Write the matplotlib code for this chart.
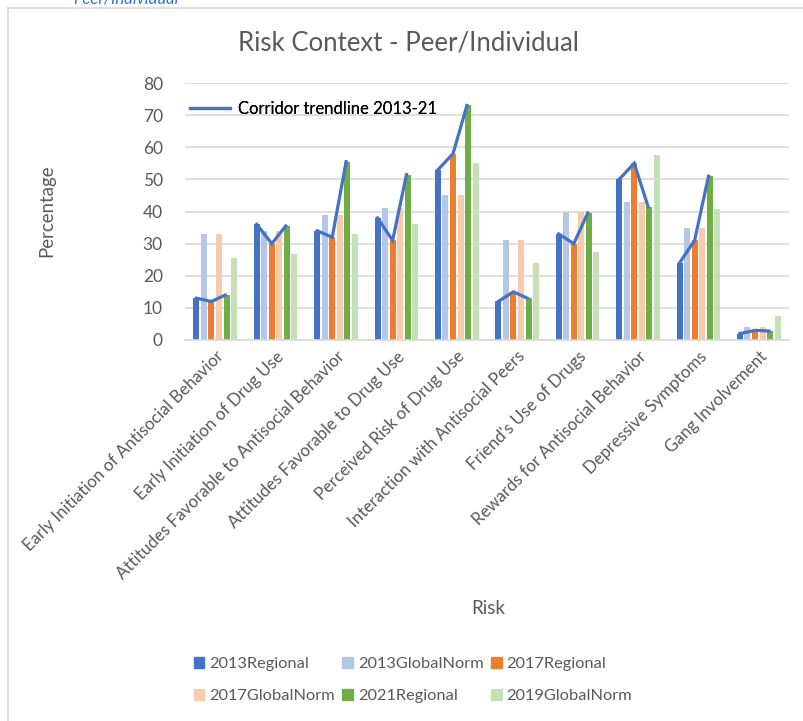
import numpy as np
import matplotlib
matplotlib.use("Agg")
import matplotlib.pyplot as plt
from matplotlib.lines import Line2D
from matplotlib.patches import Patch

categories = [
    "Early Initiation of Antisocial Behavior",
    "Early Initiation of Drug Use",
    "Attitudes Favorable to Antisocial Behavior",
    "Attitudes Favorable to Drug Use",
    "Perceived Risk of Drug Use",
    "Interaction with Antisocial Peers",
    "Friend's Use of Drugs",
    "Rewards for Antisocial Behavior",
    "Depressive Symptoms",
    "Gang Involvement",
]
regional_2013 = [13, 36, 34, 38, 53, 12, 33, 50, 24, 2]
globalnorm_2013 = [33, 34, 39, 41, 45, 31, 40, 43, 35, 4]
regional_2017 = [12, 30, 32, 31, 58, 15, 30, 55, 31, 3]
globalnorm_2017 = [33, 34, 39, 41, 45, 31, 40, 43, 35, 4]
regional_2021 = [14, 35.5, 55.5, 51.5, 73, 13, 39.5, 41.5, 51, 2.8]
globalnorm_2019 = [25.5, 26.7, 33, 36, 55.2, 24, 27.3, 57.5, 40.8, 7.5]

series_names = ["2013Regional", "2013GlobalNorm", "2017Regional",
                "2017GlobalNorm", "2021Regional", "2019GlobalNorm"]
series_values = [regional_2013, globalnorm_2013, regional_2017,
                 globalnorm_2017, regional_2021, globalnorm_2019]
colors = ["#4472C4", "#B4C7E7", "#ED7D31", "#F8CBAD", "#70AD47", "#C5E0B4"]

plt.rcParams['font.family'] = ['Lato', 'DejaVu Sans']
fig = plt.figure(figsize=(8.04, 7.21), dpi=100)
ax = fig.add_axes([185/804, 1-340/721, (789-185)/804, (340-83)/721])

x = np.arange(len(categories))
pitch = 0.125
bw = 0.1
offsets = (np.arange(6) - 2.5) * pitch
for i, (name, vals, c) in enumerate(zip(series_names, series_values, colors)):
    ax.bar(x + offsets[i], vals, width=bw, color=c, label=name, zorder=2)

# corridor trendline per group through the regional bars
for g in range(len(categories)):
    xs = [g + offsets[0], g + offsets[2], g + offsets[4] - 0.02]
    ys = [regional_2013[g], regional_2017[g], regional_2021[g]]
    ax.plot(xs, ys, color="#4472C4", lw=2.3, zorder=3, solid_joinstyle='miter')

ax.set_ylim(0, 80)
ax.set_xlim(-0.5, len(categories) - 0.5)
ax.set_yticks(range(0, 81, 10))
ax.yaxis.grid(True, color="#D9D9D9", lw=1.2)
ax.set_axisbelow(True)
for s in ["top", "right", "left"]:
    ax.spines[s].set_visible(False)
ax.spines["bottom"].set_color("#D9D9D9")
ax.spines["bottom"].set_linewidth(1.2)
ax.tick_params(axis='both', length=0, colors="#595959")
ax.tick_params(axis='y', pad=16, labelsize=12.5)
ax.set_xticks(x)
ax.set_xticklabels(categories, rotation=45, ha='right', rotation_mode='anchor',
                   color="#595959", fontsize=12.2)
ax.tick_params(axis='x', pad=6)

fig.text(408/804, 1-43/721, "Risk Context - Peer/Individual", fontsize=18.5,
         color="#595959", ha='center', va='center')
fig.text(47/804, 1-211/721, "Percentage", fontsize=13.4, color="#595959",
         rotation=90, ha='center', va='center')
fig.text(488/804, 1-608/721, "Risk", fontsize=13.5, color="#595959",
         ha='center', va='center')

# trendline legend inside
line_handle = Line2D([0], [0], color="#4472C4", lw=2.3)
leg1 = ax.legend([line_handle], ["Corridor trendline 2013-21"], loc='upper left',
                 bbox_to_anchor=(-0.002, 0.955), frameon=False, fontsize=12,
                 handlelength=2.4, handletextpad=0.45, borderaxespad=0)
ax.add_artist(leg1)

# bottom legend in row order
order = [0, 3, 1, 4, 2, 5]
patches = [Patch(color=colors[i]) for i in order]
labels = [series_names[i] for i in order]
fig.legend(patches, labels, ncol=3, loc='center', bbox_to_anchor=(413/804, 1-680/721),
           frameon=False, fontsize=11.8, handlelength=0.65, handleheight=0.65,
           handletextpad=0.3, columnspacing=0.45, labelspacing=1.05,
           labelcolor="#595959")

# outer chart border
fig.add_artist(Line2D([8/804, 1.0], [1-8/721, 1-8/721], transform=fig.transFigure,
                      color="#D9D9D9", lw=1.2))
fig.add_artist(Line2D([8/804, 8/804], [0, 1-8/721], transform=fig.transFigure,
                      color="#D9D9D9", lw=1.2))

fig.text(73/804, 1+2/721, "Peer/Individual", fontsize=12, style='italic',
         color="#2E75D0", ha='left', va='center')

fig.savefig("out.png", dpi=100)
